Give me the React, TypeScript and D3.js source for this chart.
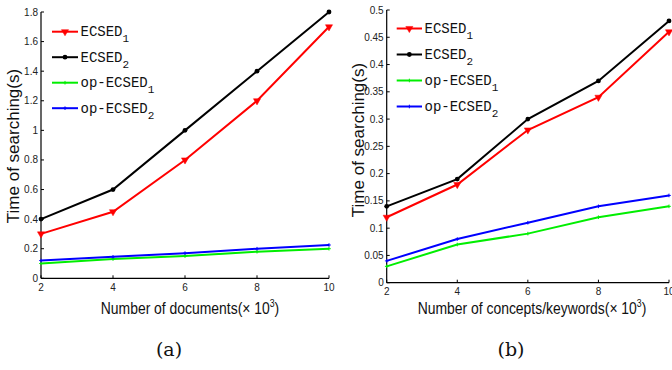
import React from "react";
import * as d3 from "d3";

const X_VALUES = [2, 4, 6, 8, 10];
const X_TICKS = [2, 4, 6, 8, 10];

const SERIES_LABELS = ["ECSED", "ECSED", "op-ECSED", "op-ECSED"];
const SERIES_SUBS = ["1", "2", "1", "2"];

// Panel (a): Number of documents
const A_ECSED1 = [0.3, 0.45, 0.8, 1.2, 1.7];
const A_ECSED2 = [0.4, 0.6, 1.0, 1.4, 1.8];
const A_OP_ECSED1 = [0.1, 0.13, 0.15, 0.18, 0.2];
const A_OP_ECSED2 = [0.12, 0.145, 0.17, 0.2, 0.225];
const A_Y_TICKS = [0, 0.2, 0.4, 0.6, 0.8, 1, 1.2, 1.4, 1.6, 1.8];

// Panel (b): Number of concepts/keywords
const B_ECSED1 = [0.12, 0.18, 0.28, 0.34, 0.46];
const B_ECSED2 = [0.14, 0.19, 0.3, 0.37, 0.48];
const B_OP_ECSED1 = [0.03, 0.07, 0.09, 0.12, 0.14];
const B_OP_ECSED2 = [0.04, 0.08, 0.11, 0.14, 0.16];
const B_Y_TICKS = [0, 0.05, 0.1, 0.15, 0.2, 0.25, 0.3, 0.35, 0.4, 0.45, 0.5];

const COLORS = ["#ff0000", "#000000", "#00ee00", "#0000ff"];
const MARKERS = ["tri", "dot", "plus", "plus"];

const SANS = "Liberation Sans, Arial, sans-serif";
const MONO = "Courier New, Liberation Mono, DejaVu Sans Mono, monospace";

function fmt(v: number) {
  return String(+v.toFixed(2));
}

function Marker({ type, x, y, color }: any) {
  if (type === "tri") {
    const p = d3.symbol().type(d3.symbolTriangle).size(22)() as string;
    return <path d={p} transform={`translate(${x},${y}) rotate(180)`} fill={color} stroke={color} strokeWidth={0.5} />;
  }
  if (type === "dot") {
    return <circle cx={x} cy={y} r={2.4} fill={color} />;
  }
  return (
    <g stroke={color} strokeWidth={1}>
      <line x1={x - 1.8} x2={x + 1.8} y1={y} y2={y} />
      <line x1={x} x2={x} y1={y - 1.8} y2={y + 1.8} />
    </g>
  );
}

function Panel({ geom, series, yDomain, yTicks, xTitle, xTitleScale, legend }: any) {
  const x = d3.scaleLinear().domain([2, 10]).range([geom.x0, geom.x1]);
  const y = d3.scaleLinear().domain(yDomain).range([geom.y0, geom.y1]);
  const line = d3
    .line<number>()
    .x((_, i) => x(X_VALUES[i]))
    .y((d) => y(d));
  const tl = 3;
  return (
    <g>
      <line x1={geom.x0} x2={geom.x0} y1={geom.y0} y2={geom.y1} stroke="#000" strokeWidth={1.2} />
      <line x1={geom.x0} x2={geom.x1} y1={geom.y0} y2={geom.y0} stroke="#000" strokeWidth={1.2} />
      {yTicks.map((t: number) => (
        <g key={"y" + t}>
          <line x1={geom.x0} x2={geom.x0 + tl} y1={y(t)} y2={y(t)} stroke="#000" strokeWidth={1} />
          <text x={geom.x0 - 3} y={y(t)} dy="0.35em" textAnchor="end" fontFamily={SANS} fontSize={10} fill="#222">
            {fmt(t)}
          </text>
        </g>
      ))}
      {X_TICKS.map((t: number) => (
        <g key={"x" + t}>
          <line x1={x(t)} x2={x(t)} y1={geom.y0} y2={geom.y0 - tl} stroke="#000" strokeWidth={1} />
          <text x={x(t)} y={geom.y0 + 12.5} textAnchor="middle" fontFamily={SANS} fontSize={10} fill="#222">
            {t}
          </text>
        </g>
      ))}
      <text
        transform={`translate(${geom.yTitleX},${geom.yTitleY}) rotate(-90)`}
        textAnchor="middle"
        fontFamily={SANS}
        fontSize={17}
        fill="#111"
      >
        Time of searching(s)
      </text>
      <text
        transform={`translate(${geom.xTitleX},${geom.xTitleY}) scale(${xTitleScale},1)`}
        textAnchor="middle"
        fontFamily={SANS}
        fontSize={16}
        fill="#111"
      >
        {xTitle}(× 10
        <tspan dy={-7} fontSize={10}>3</tspan>
        <tspan dy={7}>)</tspan>
      </text>
      {series.map((s: number[], si: number) => (
        <g key={"s" + si}>
          <path d={line(s) as string} fill="none" stroke={COLORS[si]} strokeWidth={2} />
          {s.map((v, i) => (
            <Marker key={i} type={MARKERS[si]} x={x(X_VALUES[i])} y={y(v)} color={COLORS[si]} />
          ))}
        </g>
      ))}
      {SERIES_LABELS.map((lab, i) => {
        const ly = legend.y0 + i * legend.dy;
        const mx = (legend.x0 + legend.x1) / 2;
        return (
          <g key={"l" + i}>
            <line x1={legend.x0} x2={legend.x1} y1={ly} y2={ly} stroke={COLORS[i]} strokeWidth={2} />
            <Marker type={MARKERS[i]} x={mx} y={ly} color={COLORS[i]} />
            <text x={legend.x1 + 2.5} y={ly + 4.5} fontFamily={MONO} fontSize={14} fill="#111">
              {lab}
              <tspan dy={6} fontSize={11}>{SERIES_SUBS[i]}</tspan>
            </text>
          </g>
        );
      })}
    </g>
  );
}

export default function App() {
  const geomA = {
    x0: 41, x1: 329, y0: 278.3, y1: 12,
    yTitleX: 19, yTitleY: 146, xTitleX: 190, xTitleY: 314,
  };
  const geomB = {
    x0: 386.7, x1: 669, y0: 282.7, y1: 10,
    yTitleX: 364, yTitleY: 140, xTitleX: 532, xTitleY: 314,
  };
  return (
    <svg
      width={672}
      height={370}
      style={{ position: "absolute", left: 0, top: 0, background: "#fff" }}
    >
      <rect x={0} y={0} width={672} height={370} fill="#fff" />
      <Panel
        geom={geomA}
        series={[A_ECSED1, A_ECSED2, A_OP_ECSED1, A_OP_ECSED2]}
        yDomain={[0, 1.8]}
        yTicks={A_Y_TICKS}
        xTitle="Number of documents"
        xTitleScale={0.87}
        legend={{ x0: 52, x1: 78, y0: 31.7, dy: 25.5 }}
      />
      <Panel
        geom={geomB}
        series={[B_ECSED1, B_ECSED2, B_OP_ECSED1, B_OP_ECSED2]}
        yDomain={[0, 0.5]}
        yTicks={B_Y_TICKS}
        xTitle="Number of concepts/keywords"
        xTitleScale={0.87}
        legend={{ x0: 396.7, x1: 422, y0: 28.5, dy: 26 }}
      />
      <text x={169} y={356} textAnchor="middle" fontFamily="DejaVu Serif, serif" fontSize={19} fill="#111">
        (a)
      </text>
      <text x={511} y={356} textAnchor="middle" fontFamily="DejaVu Serif, serif" fontSize={19} fill="#111">
        (b)
      </text>
    </svg>
  );
}
